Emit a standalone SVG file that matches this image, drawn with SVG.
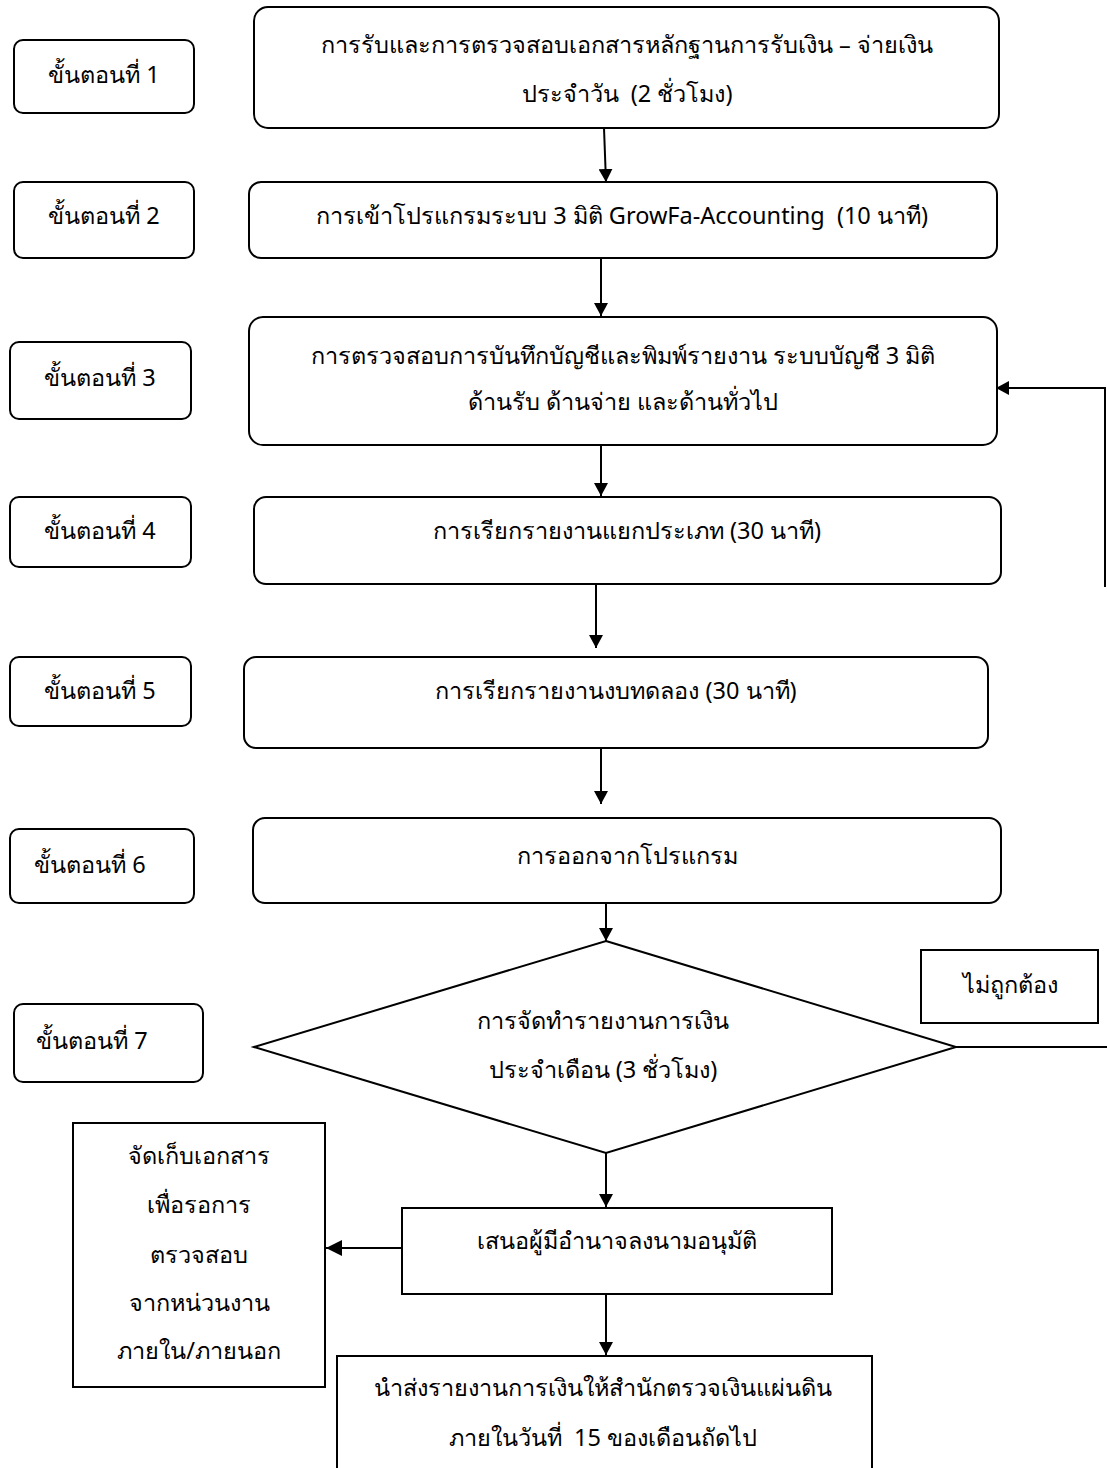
<svg xmlns="http://www.w3.org/2000/svg" width="1107" height="1468" viewBox="0 0 1107 1468">
<style>
  .box{fill:#fff;stroke:#000;stroke-width:2}
  .t{font-family:"Noto Sans","DejaVu Sans",sans-serif;font-size:23.5px;fill:#000;text-anchor:middle;dominant-baseline:middle;white-space:pre}
  .c{fill:none;stroke:#000;stroke-width:2}
</style>
<defs>
  <marker id="ah" markerWidth="13" markerHeight="14" refX="10" refY="5" orient="auto" markerUnits="userSpaceOnUse" viewBox="0 0 10 10" preserveAspectRatio="none">
    <path d="M0,0 L10,5 L0,10 z" fill="#000"/>
  </marker>
  <marker id="ah2" markerWidth="16" markerHeight="16" refX="10" refY="5" orient="auto" markerUnits="userSpaceOnUse" viewBox="0 0 10 10">
    <path d="M0,0 L10,5 L0,10 z" fill="#000"/>
  </marker>
</defs>
<rect width="1107" height="1468" fill="#fff"/>

<g id="step1"><rect class="box" x="14" y="40" width="180" height="73" rx="9"/><text class="t" x="104" y="77">ขั้นตอนที่ 1</text></g>
<g id="step2"><rect class="box" x="14" y="182" width="180" height="76" rx="9"/><text class="t" x="104" y="218">ขั้นตอนที่ 2</text></g>
<g id="step3"><rect class="box" x="10" y="342" width="181" height="77" rx="9"/><text class="t" x="100" y="380">ขั้นตอนที่ 3</text></g>
<g id="step4"><rect class="box" x="10" y="497" width="181" height="70" rx="9"/><text class="t" x="100" y="533">ขั้นตอนที่ 4</text></g>
<g id="step5"><rect class="box" x="10" y="657" width="181" height="69" rx="9"/><text class="t" x="100" y="693">ขั้นตอนที่ 5</text></g>
<g id="step6"><rect class="box" x="10" y="829" width="184" height="74" rx="9"/><text class="t" x="90" y="867">ขั้นตอนที่ 6</text></g>
<g id="step7"><rect class="box" x="14" y="1004" width="189" height="78" rx="9"/><text class="t" x="92" y="1043">ขั้นตอนที่ 7</text></g>

<g id="n1"><rect class="box" x="254" y="7" width="745" height="121" rx="14"/>
  <text class="t" x="627" y="47">การรับและการตรวจสอบเอกสารหลักฐานการรับเงิน – จ่ายเงิน</text>
  <text class="t" x="627" y="96">ประจำวัน  (2 ชั่วโมง)</text></g>
<g id="n2"><rect class="box" x="249" y="182" width="748" height="76" rx="12"/>
  <text class="t" x="622" y="218">การเข้าโปรแกรมระบบ 3 มิติ GrowFa-Accounting  (10 นาที)</text></g>
<g id="n3"><rect class="box" x="249" y="317" width="748" height="128" rx="14"/>
  <text class="t" x="623" y="358">การตรวจสอบการบันทึกบัญชีและพิมพ์รายงาน ระบบบัญชี 3 มิติ</text>
  <text class="t" x="623" y="404">ด้านรับ ด้านจ่าย และด้านทั่วไป</text></g>
<g id="n4"><rect class="box" x="254" y="497" width="747" height="87" rx="12"/>
  <text class="t" x="627" y="533">การเรียกรายงานแยกประเภท (30 นาที)</text></g>
<g id="n5"><rect class="box" x="244" y="657" width="744" height="91" rx="12"/>
  <text class="t" x="616" y="693">การเรียกรายงานงบทดลอง (30 นาที)</text></g>
<g id="n6"><rect class="box" x="253" y="818" width="748" height="85" rx="12"/>
  <text class="t" x="627" y="858">การออกจากโปรแกรม</text></g>
<g id="n7"><polygon class="box" points="606,941 956,1047 606,1153 254,1047"/>
  <text class="t" x="603" y="1023">การจัดทำรายงานการเงิน</text>
  <text class="t" x="603" y="1072">ประจำเดือน (3 ชั่วโมง)</text></g>
<g id="wrong"><rect class="box" x="921" y="950" width="177" height="73"/>
  <text class="t" x="1010" y="987">ไม่ถูกต้อง</text></g>
<g id="approve"><rect class="box" x="402" y="1208" width="430" height="86"/>
  <text class="t" x="617" y="1243">เสนอผู้มีอำนาจลงนามอนุมัติ</text></g>
<g id="store"><rect class="box" x="73" y="1123" width="252" height="264"/>
  <text class="t" x="199" y="1158">จัดเก็บเอกสาร</text>
  <text class="t" x="199" y="1207">เพื่อรอการ</text>
  <text class="t" x="199" y="1257">ตรวจสอบ</text>
  <text class="t" x="199" y="1305">จากหน่วนงาน</text>
  <text class="t" x="199" y="1353">ภายใน/ภายนอก</text></g>
<g id="submit"><rect class="box" x="337" y="1356" width="535" height="120"/>
  <text class="t" x="603" y="1390">นำส่งรายงานการเงินให้สำนักตรวจเงินแผ่นดิน</text>
  <text class="t" x="603" y="1440">ภายในวันที่  15 ของเดือนถัดไป</text></g>

<g id="connectors">
  <line class="c" x1="604" y1="128" x2="606" y2="182" marker-end="url(#ah)"/>
  <line class="c" x1="601" y1="258" x2="601" y2="316" marker-end="url(#ah)"/>
  <line class="c" x1="601" y1="445" x2="601" y2="496" marker-end="url(#ah)"/>
  <line class="c" x1="596" y1="584" x2="596" y2="648" marker-end="url(#ah)"/>
  <line class="c" x1="601" y1="748" x2="601" y2="804" marker-end="url(#ah)"/>
  <line class="c" x1="606" y1="903" x2="606" y2="941" marker-end="url(#ah)"/>
  <line class="c" x1="606" y1="1153" x2="606" y2="1207" marker-end="url(#ah)"/>
  <line class="c" x1="606" y1="1294" x2="606" y2="1355" marker-end="url(#ah)"/>
  <line class="c" x1="402" y1="1248" x2="326" y2="1248" stroke-width="3" marker-end="url(#ah2)"/>
  <polyline class="c" points="1105,587 1105,388 996,388" marker-end="url(#ah)"/>
  <line class="c" x1="956" y1="1047" x2="1107" y2="1047"/>
</g>
</svg>
